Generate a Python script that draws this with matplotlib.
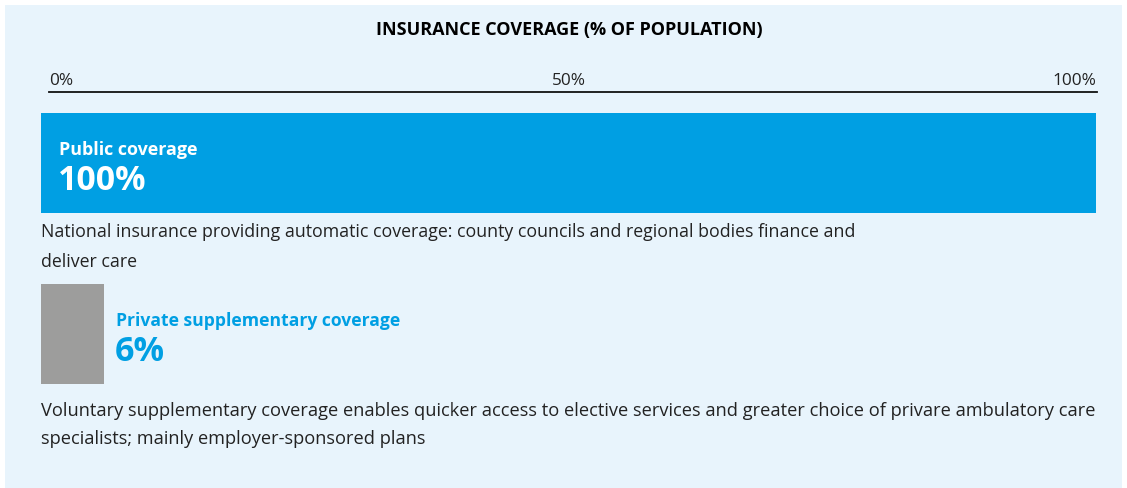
import matplotlib.pyplot as plt
from matplotlib.lines import Line2D
from matplotlib.patches import Rectangle

# data
categories = ["Public coverage", "Private supplementary coverage"]
values = [100, 6]
descriptions = [
    "National insurance providing automatic coverage: county councils and regional bodies finance and\ndeliver care",
    "Voluntary supplementary coverage enables quicker access to elective services and greater choice of privare ambulatory care\nspecialists; mainly employer-sponsored plans",
]
tick_values = [0, 50, 100]
tick_labels = ["0%", "50%", "100%"]
title = "INSURANCE COVERAGE (% OF POPULATION)"

W, H = 1127, 488
BLUE = "#009FE3"
GREY = "#9D9D9C"
BG = "#E8F4FC"
TXT = "#222222"
FONT = "Open Sans"


def fx(px):
    return px / W


def fy(py):
    return 1 - py / H


fig = plt.figure(figsize=(W / 100, H / 100), dpi=100)
fig.patch.set_facecolor("white")
fig.patches.append(Rectangle((fx(5), 0), fx(1117), fy(5), transform=fig.transFigure,
                             facecolor=BG, edgecolor="none", zorder=-10))

# bars axes: x 0..100 maps to pixels 41..1096, bars centred at y=163 and y=334 px
top_px, bot_px = 92, 488
y0, step = 163, 171
ax = fig.add_axes([fx(41), 1 - bot_px / H, fx(1096 - 41), (bot_px - top_px) / H])
ax.set_xlim(0, 100)
ax.set_ylim((bot_px - y0) / step, (top_px - y0) / step)
ax.axis("off")
ax.barh(range(len(values)), values, height=100 / step, color=[BLUE, GREY], left=0)

# top scale line
fig.add_artist(Line2D([fx(49), fx(1097)], [fy(92), fy(92)], color="#111111", lw=1.3))
tick_px = {0: (49, "left"), 50: (569, "center"), 100: (1096, "right")}
for v, lab in zip(tick_values, tick_labels):
    px, ha = tick_px[v]
    fig.text(fx(px), fy(81), lab, ha=ha, va="center", fontsize=12.4, color=TXT, family=FONT)

fig.text(fx(569), fy(30), title, ha="center", va="center", fontsize=13, fontweight="bold",
         color="black", family=FONT)

# labels
fig.text(fx(59), fy(150), categories[0], ha="left", va="center", fontsize=12.9,
         fontweight="bold", color="white", family=FONT)
fig.text(fx(58), fy(181), f"{values[0]}%", ha="left", va="center", fontsize=24.4,
         fontweight="bold", color="white", family=FONT)
fig.text(fx(116), fy(321), categories[1], ha="left", va="center", fontsize=12.6,
         fontweight="bold", color=BLUE, family=FONT)
fig.text(fx(115), fy(352), f"{values[1]}%", ha="left", va="center", fontsize=24.5,
         fontweight="bold", color=BLUE, family=FONT)

fig.text(fx(41), fy(247), descriptions[0], ha="left", va="center", fontsize=12.8,
         color=TXT, family=FONT, linespacing=1.8)
fig.text(fx(41), fy(425), descriptions[1], ha="left", va="center", fontsize=13.15,
         color=TXT, family=FONT, linespacing=1.75)

fig.savefig("out.png", dpi=100)
